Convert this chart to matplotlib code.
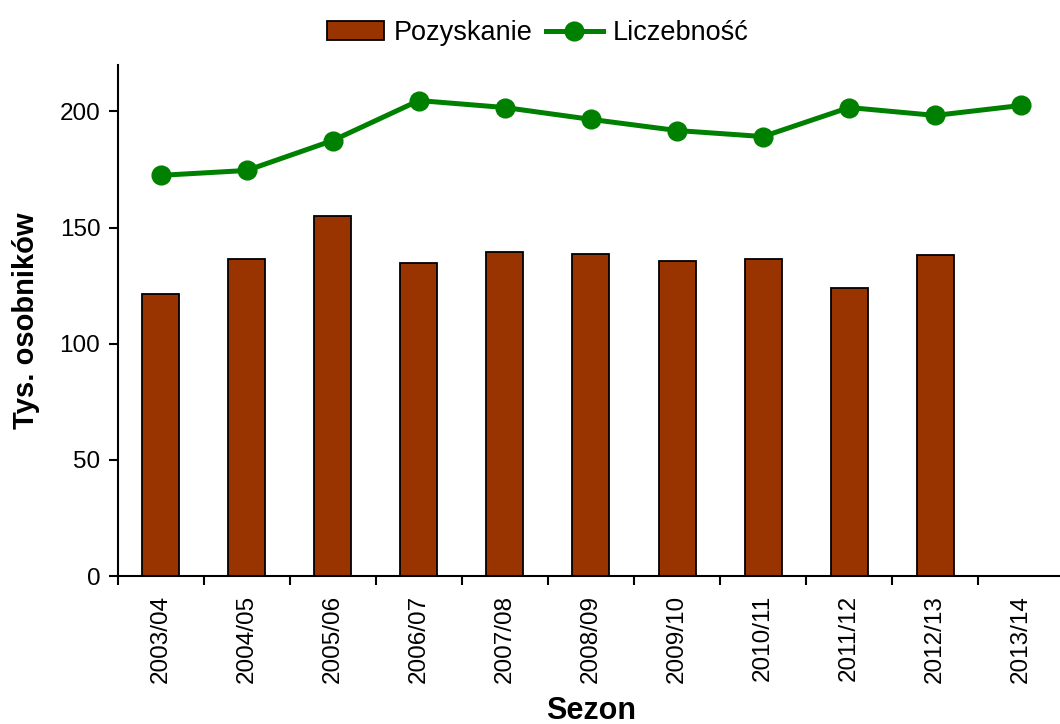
import numpy as np
import matplotlib
matplotlib.use("Agg")
import matplotlib.pyplot as plt

plt.rcParams['font.family'] = ['Liberation Sans', 'DejaVu Sans']

seasons = ["2003/04", "2004/05", "2005/06", "2006/07", "2007/08", "2008/09",
           "2009/10", "2010/11", "2011/12", "2012/13", "2013/14"]
pozyskanie = [121.3, 136.3, 154.8, 134.6, 139.4, 138.5, 135.5, 136.3, 123.9, 138.1, np.nan]
liczebnosc = [172.5, 174.6, 187.5, 204.7, 201.7, 196.6, 191.8, 189.2, 201.7, 198.3, 202.6]

fig = plt.figure(figsize=(10.6, 7.24), dpi=100)
ax = fig.add_axes([0.111, 0.2044, 0.893, 0.7058])

x = np.arange(len(seasons))
bars = ax.bar(x, pozyskanie, width=0.43, color="#993300", edgecolor="black",
              linewidth=1.3, label="Pozyskanie", zorder=2)
line, = ax.plot(x, liczebnosc, color="#008000", lw=3.6, marker="o", markersize=13.5,
                label="Liczebność", zorder=3)

ax.set_xlim(-0.5, len(seasons) - 0.5)
ax.set_ylim(0, 220)
ax.set_yticks([0, 50, 100, 150, 200])
ax.set_xticks(x)
ax.set_xticklabels(seasons, rotation=90, fontsize=17.5)
ax.set_xticks(np.arange(len(seasons) + 1) - 0.5, minor=True)
ax.tick_params(axis="x", which="major", length=0, pad=13.5)
ax.tick_params(axis="x", which="minor", length=6.5, width=1.5, direction="out")
ax.tick_params(axis="y", labelsize=17.5, length=6.5, width=1.5, direction="out", pad=6)

for s in ["top", "right"]:
    ax.spines[s].set_visible(False)
for s in ["left", "bottom"]:
    ax.spines[s].set_linewidth(1.5)

ax.set_xlabel("Sezon", fontsize=22, fontweight="bold", labelpad=9.5)
ax.set_ylabel("Tys. osobników", fontsize=21, fontweight="bold", labelpad=14)

ax.legend([bars, line], ["Pozyskanie", "Liczebność"], loc="lower center",
          bbox_to_anchor=(0.444, 1.0), ncol=2, frameon=False,
          fontsize=19.5, handlelength=2.1, handletextpad=0.37, columnspacing=0.48,
          borderaxespad=0.3)

fig.savefig("out.png", dpi=100)
